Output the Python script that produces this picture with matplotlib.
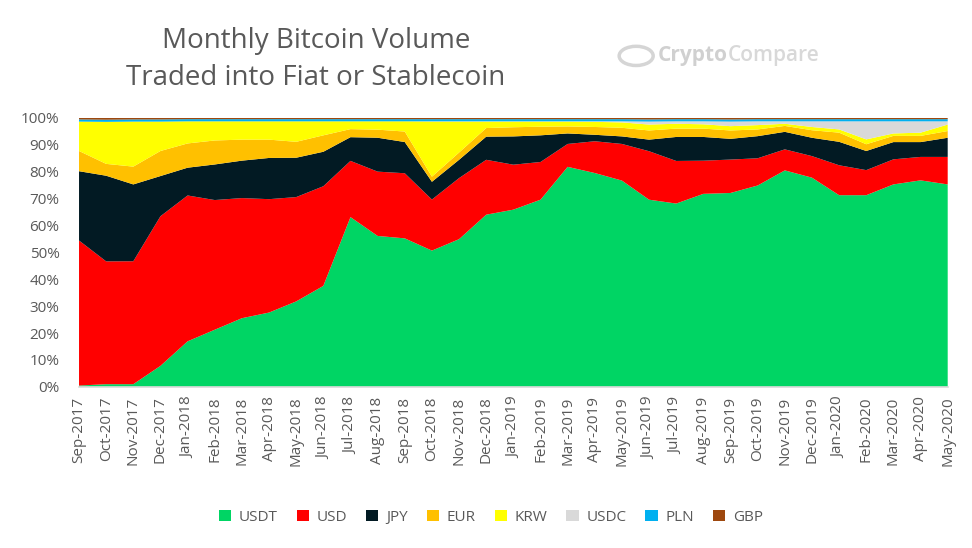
import numpy as np
import matplotlib.pyplot as plt
from matplotlib.patches import Circle

# ===========================
# Data (share of monthly BTC volume, %)
# ===========================
months = ["Sep-2017", "Oct-2017", "Nov-2017", "Dec-2017", "Jan-2018", "Feb-2018",
          "Mar-2018", "Apr-2018", "May-2018", "Jun-2018", "Jul-2018", "Aug-2018",
          "Sep-2018", "Oct-2018", "Nov-2018", "Dec-2018", "Jan-2019", "Feb-2019",
          "Mar-2019", "Apr-2019", "May-2019", "Jun-2019", "Jul-2019", "Aug-2019",
          "Sep-2019", "Oct-2019", "Nov-2019", "Dec-2019", "Jan-2020", "Feb-2020",
          "Mar-2020", "Apr-2020", "May-2020"]

usdt = [0.5, 1.0, 1.0, 7.8, 16.9, 21.2, 25.5, 27.6, 31.7, 37.5, 63.1, 56.1,
        55.2, 50.7, 54.9, 64.0, 65.8, 69.5, 81.7, 79.4, 76.6, 69.5, 68.0, 71.6,
        72.0, 74.7, 80.3, 77.6, 71.1, 71.1, 75.1, 76.6, 75.1]
usd = [53.8, 45.6, 45.6, 55.5, 54.1, 48.1, 44.6, 42.1, 38.7, 37.0, 20.9, 23.9,
       24.2, 19.0, 22.7, 20.4, 16.7, 14.0, 8.5, 11.8, 13.6, 18.0, 15.8, 12.3,
       12.4, 10.1, 7.8, 8.0, 11.1, 9.3, 9.3, 8.7, 10.2]
jpy = [25.7, 31.8, 28.5, 14.9, 10.3, 13.2, 13.9, 15.3, 14.6, 12.8, 8.8, 12.6,
       11.6, 6.6, 6.8, 8.6, 10.5, 9.9, 3.9, 2.4, 2.8, 4.3, 8.9, 8.8,
       7.7, 8.2, 6.5, 6.8, 8.7, 7.1, 6.4, 5.5, 7.1]
eur = [7.5, 4.4, 6.6, 9.3, 9.0, 8.9, 7.8, 6.8, 5.9, 6.1, 3.0, 3.0,
       3.9, 1.9, 2.7, 3.2, 3.4, 3.2, 2.6, 2.9, 3.2, 3.4, 3.1, 3.1,
       3.1, 2.5, 2.2, 2.8, 3.4, 2.5, 2.3, 2.3, 2.5]
krw = [10.9, 15.6, 16.7, 10.9, 8.2, 7.1, 6.8, 6.8, 7.6, 5.2, 2.9, 3.1,
       3.8, 20.5, 11.5, 2.4, 2.1, 1.9, 1.8, 1.9, 2.0, 2.2, 1.8, 1.6,
       1.6, 1.6, 0.8, 1.2, 1.2, 1.8, 0.9, 1.2, 2.4]
usdc = [0, 0, 0, 0, 0, 0, 0, 0, 0, 0, 0, 0,
        0, 0.1, 0.1, 0.1, 0.1, 0.1, 0.1, 0.2, 0.4, 1.1, 0.9, 1.1,
        1.7, 1.4, 0.9, 2.1, 3.0, 6.7, 4.5, 4.2, 1.2]
pln = [0.8] * 33
gbp = [0.6, 0.7, 0.6, 0.6, 0.5, 0.5, 0.5, 0.5, 0.5, 0.5, 0.5, 0.5,
       0.5, 0.5, 0.5, 0.5, 0.5, 0.5, 0.5, 0.5, 0.5, 0.6, 0.5, 0.5,
       0.6, 0.5, 0.5, 0.5, 0.5, 0.5, 0.5, 0.5, 0.5]

labels = ["USDT", "USD", "JPY", "EUR", "KRW", "USDC", "PLN", "GBP"]
colors = ["#00D564", "#FF0000", "#021A23", "#FFC000", "#FFFF00", "#D9D9D9",
          "#00B0F0", "#9E480E"]

# ===========================
# Plot
# ===========================
plt.rcParams["font.family"] = ["Open Sans", "DejaVu Sans"]

series = np.array([usdt, usd, jpy, eur, krw, usdc, pln, gbp], dtype=float)
series = series / series.sum(axis=0) * 100  # 100% stacked
x = np.arange(len(months))

fig = plt.figure(figsize=(9.72, 5.48), dpi=100)
ax = fig.add_axes([0.0813, 0.294, 0.8937, 0.491])
ax.stackplot(x, series, labels=labels, colors=colors, linewidth=0)

ax.set_xlim(0, len(months) - 1)
ax.set_ylim(0, 100)
ax.set_yticks(np.arange(0, 101, 10))
ax.set_yticklabels([f"{v}%" for v in range(0, 101, 10)])
ax.set_xticks(x)
ax.set_xticklabels(months, rotation=90)
ax.tick_params(axis="both", length=0, labelsize=11, colors="#595959")
ax.tick_params(axis="x", pad=7)
ax.tick_params(axis="y", pad=14)
for s in ["top", "right", "left"]:
    ax.spines[s].set_visible(False)
ax.spines["bottom"].set_color("#D9D9D9")
ax.spines["bottom"].set_linewidth(1.2)

# title
fig.text(0.325, 0.925, "Monthly Bitcoin Volume", ha="center", va="center",
         fontsize=20, color="#595959")
fig.text(0.325, 0.857, "Traded into Fiat or Stablecoin", ha="center", va="center",
         fontsize=20, color="#595959")

# watermark logo
fig.patches.append(Circle((0.6545, 0.898), 0.0175, transform=fig.transFigure,
                          facecolor="none", edgecolor="#D5D5D5", lw=2.5))
fig.text(0.677, 0.898, "Crypto", ha="left", va="center", fontsize=15,
         color="#D0D0D0", fontweight="bold")
fig.text(0.7485, 0.898, "Compare", ha="left", va="center", fontsize=15,
         color="#D8D8D8", fontweight="semibold")

# legend
leg = fig.legend(*ax.get_legend_handles_labels(), loc="center",
                 bbox_to_anchor=(0.505, 0.056), ncol=8, frameon=False,
                 fontsize=11, handlelength=0.8, handleheight=0.8,
                 columnspacing=1.25, handletextpad=0.5)
for t in leg.get_texts():
    t.set_color("#595959")

fig.savefig("out.png", dpi=100)
